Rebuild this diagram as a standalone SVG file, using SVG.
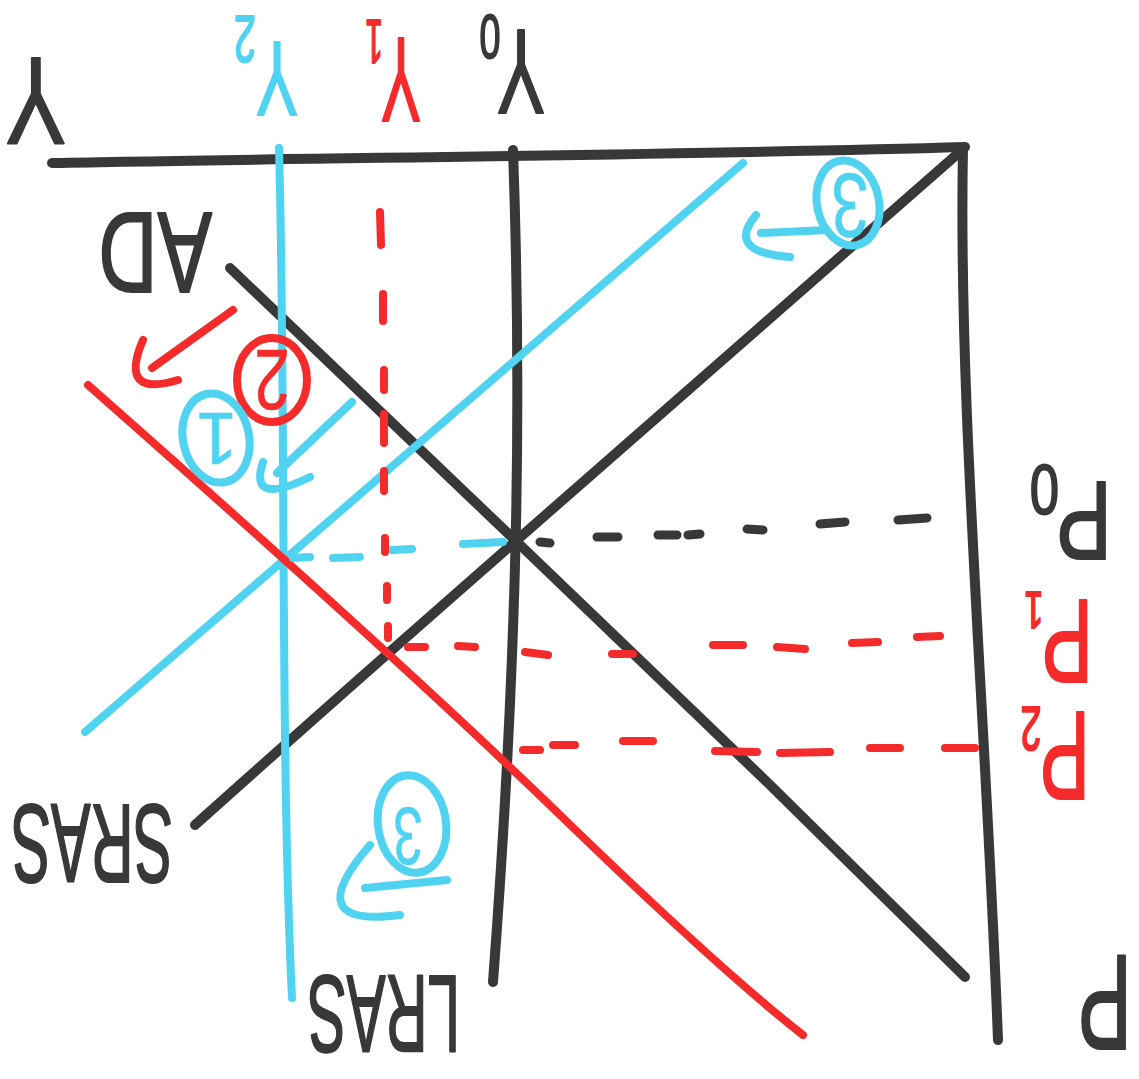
<svg xmlns="http://www.w3.org/2000/svg" width="1139" height="1079" viewBox="0 0 1139 1079">
<style>
.k{stroke:#383838;fill:none;stroke-linecap:round;stroke-linejoin:round;stroke-width:10}
.c{stroke:#4fd3f1;fill:none;stroke-linecap:round;stroke-linejoin:round;stroke-width:8}
.r{stroke:#f52a2a;fill:none;stroke-linecap:round;stroke-linejoin:round;stroke-width:8}
.kd{stroke:#383838;fill:none;stroke-linecap:round;stroke-width:9}
.rd{stroke:#f52a2a;fill:none;stroke-linecap:round;stroke-width:8}
.cd{stroke:#4fd3f1;fill:none;stroke-linecap:round;stroke-width:8}
text{font-family:"Liberation Sans","DejaVu Sans",sans-serif;stroke-linejoin:round}
.tk{fill:#383838;stroke:#383838;stroke-width:2}
.tc{fill:#4fd3f1;stroke:#4fd3f1;stroke-width:2}
.tr{fill:#f52a2a;stroke:#f52a2a;stroke-width:2}
.n{stroke-width:0.5}
</style>
<rect width="1139" height="1079" fill="#ffffff"/>
<g id="axes">
<path class="k" d="M52,163 C300,158 700,155 965,147"/>
<path class="k" d="M963,148 C958,400 985,700 998,1040"/>
</g>
<g id="curves">
<path id="SRAS" class="k" d="M195,825 Q330,704 517,540 L962,150"/>
<path id="AD" class="k" d="M230,268 L517,542 L767,782 L965,977"/>
<path id="Y0-line" class="k" d="M513,150 C522,400 518,650 493,982"/>
<path id="LRAS-cyan" class="c" d="M279,148 C286,400 280,750 292,998"/>
<path id="SRAS-cyan" class="c" d="M85,732 L743,163"/>
<path id="AD-red" class="r" d="M88,385 Q400,660 560,815 T803,1035"/>
</g>
<g id="guides">
<path class="kd" d="M540,542 L550,543 M597,537 L618,537 M658,535 L677,535 M688,535 L700,534 M747,529 L763,530 M820,524 L845,522 M898,520 L927,518"/>
<path class="cd" d="M293,558 L310,557 M333,558 L360,557 M392,550 L412,549 M463,544 L503,542"/>
<path class="rd" d="M380,212 L381,245 M383,294 L383,321 M384,370 L384,390 M384,414 L384,443 M384,471 L384,491 M385,538 L385,552 M387,586 L387,600 M388,626 L388,638"/>
<path class="rd" d="M408,647 L425,647 M458,646 L475,647 M525,652 L548,655 M612,654 L633,654 M713,645 L743,645 M777,647 L805,649 M852,643 L878,642 M917,637 L940,636"/>
<path class="rd" d="M523,750 L540,750 M553,745 L575,745 M623,741 L653,741 M715,751 L757,752 M780,753 L830,752 M870,748 L900,748 M945,748 L975,748"/>
</g>
<g id="labels">
<g id="label-Y" transform="translate(66,58) rotate(180) scale(0.73,1)"><text class="tk" font-size="124">Y</text></g>
<g id="label-Y2" transform="translate(298,42) rotate(180) scale(0.6,1)"><text class="tc" font-size="105">Y<tspan dy="26" font-size="66">2</tspan></text></g>
<g id="label-Y1" transform="translate(421,38) rotate(180) scale(0.5,1)"><text class="tr" font-size="120">Y<tspan dx="-4" dy="18" font-size="63">1</tspan></text></g>
<g id="label-Y0" transform="translate(545,30) rotate(180) scale(0.6,1)"><text class="tk" font-size="120">Y<tspan dx="-6" dy="15" font-size="63">0</tspan></text></g>
<g id="label-AD" transform="translate(212,213) rotate(180) scale(0.71,1)"><text class="tk" font-size="115">AD</text></g>
<g id="label-SRAS" transform="translate(173,805) rotate(180) scale(0.53,1)"><text class="tk" font-size="112">SRAS</text></g>
<g id="label-LRAS" transform="translate(460,976) rotate(180) scale(0.53,1)"><text class="tk" font-size="110">LRAS</text></g>
<g id="label-P0" transform="translate(1112,482) rotate(180) scale(0.75,1)"><text class="tk" font-size="112">P<tspan dx="-4" dy="17" font-size="70">0</tspan></text></g>
<g id="label-P1" transform="translate(1093,600) rotate(180) scale(0.65,1)"><text class="tr" font-size="119">P<tspan dx="-3" dy="8" font-size="52">1</tspan></text></g>
<g id="label-P2" transform="translate(1090,712) rotate(180) scale(0.6,1)"><text class="tr" font-size="126">P<tspan dx="-3" dy="5" font-size="63">2</tspan></text></g>
<g id="label-P" transform="translate(1132,956) rotate(180) scale(0.6,1)"><text class="tk" font-size="136">P</text></g>
</g>
<g id="annotations">
<g id="step3-top">
<ellipse class="c" cx="848" cy="203" rx="31" ry="43" transform="rotate(-12 848 203)" stroke-width="7"/>
<g transform="translate(850,206) rotate(180) scale(0.75,1)"><text class="tc n" font-size="90" text-anchor="middle" y="32">3</text></g>
<path class="c" d="M761,233 L827,230 M756,215 Q725,252 790,257"/>
</g>
<g id="step2">
<ellipse class="r" cx="272" cy="380" rx="35" ry="42" stroke-width="7"/>
<g transform="translate(272,381) rotate(180) scale(0.75,1)"><text class="tr n" font-size="86" text-anchor="middle" y="31">2</text></g>
<path class="r" d="M233,310 L152,368 M143,340 Q118,398 178,380"/>
</g>
<g id="step1">
<ellipse class="c" cx="216" cy="438" rx="33" ry="45" transform="rotate(-12 216 438)" stroke-width="7"/>
<g transform="translate(217,440) rotate(180)"><text class="tc n" font-size="75" text-anchor="middle" y="27">1</text></g>
<path class="c" d="M352,402 L277,473 M263,462 Q248,507 310,477"/>
</g>
<g id="step3-bottom">
<ellipse class="c" cx="412" cy="824" rx="34" ry="49" transform="rotate(-8 412 824)" stroke-width="7"/>
<g transform="translate(408,837) rotate(180) scale(0.65,1)"><text class="tc n" font-size="82" text-anchor="middle" y="29">3</text></g>
<path class="c" d="M365,888 L447,880 M370,845 Q298,928 400,915"/>
</g>
</g>
</svg>
